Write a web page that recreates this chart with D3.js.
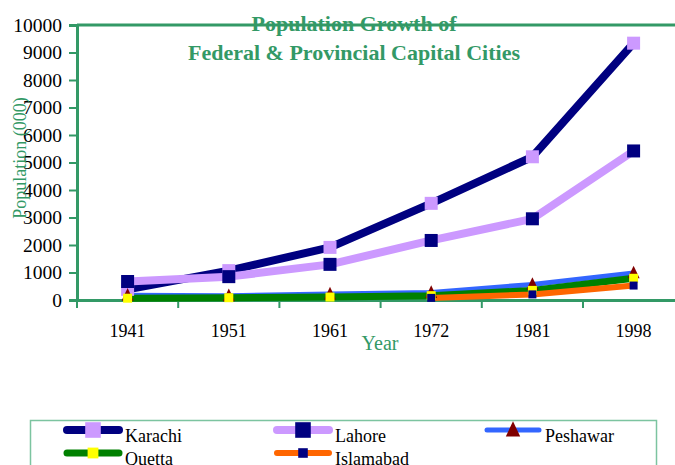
<!DOCTYPE html>
<html>
<head>
<meta charset="utf-8">
<script src="https://cdn.jsdelivr.net/npm/d3@7"></script>
<style>
body{margin:0;background:#fff;}
svg{display:block;font-family:"Liberation Serif","Times New Roman",serif;}
</style>
</head>
<body>
<svg></svg>
<script>
// data (thousands)
var years = ["1941","1951","1961","1972","1981","1998"];
var karachi = [387,1068,1913,3515,5208,9339];
var lahore = [672,849,1296,2165,2953,5420];
var peshawar = [173,152,219,273,566,985];
var quetta = [65,84,107,158,350,790];
var islamabad = [null,null,null,77,204,525];
var cityNames = ["Karachi","Lahore","Peshawar","Quetta","Islamabad"];
var yTicks = [0,1000,2000,3000,4000,5000,6000,7000,8000,9000,10000];

var green = "#339966";

var styles = {
  Karachi:{line:"#000080",width:8,marker:"square",fill:"#cc99ff",size:13},
  Lahore:{line:"#cc99ff",width:8,marker:"square",fill:"#000080",size:13},
  Peshawar:{line:"#3366ff",width:5,marker:"triangle",fill:"#800000",size:12},
  Quetta:{line:"#008000",width:7,marker:"square",fill:"#ffff00",size:9},
  Islamabad:{line:"#ff6600",width:6,marker:"square",fill:"#000080",size:8}
};

var series = [karachi,lahore,peshawar,quetta,islamabad].map(function(vals,i)
{
  return {
    name:cityNames[i],
    points:vals.map(function(v,j){return {year:years[j],value:v};})
  };
});

var drawChart = function()
{
  var screen = {width:675,height:465};

  var svg = d3.select("svg")
              .attr("width",screen.width)
              .attr("height",screen.height);

  var plot = {left:77,top:25,bottom:300,step:101.2};

  var xScale = d3.scaleBand()
            .domain(years)
            .range([plot.left,plot.left+plot.step*years.length]);
  var yScale = d3.scaleLinear()
            .domain([0,10000])
            .range([plot.bottom,plot.top]);

  // top border of plot area
  svg.append("line")
     .attr("x1",plot.left).attr("x2",screen.width)
     .attr("y1",plot.top).attr("y2",plot.top)
     .attr("stroke",green).attr("stroke-width",3);

  // y axis
  var yAxis = d3.axisLeft(yScale)
                .tickValues(yTicks)
                .tickSize(8)
                .tickPadding(7)
                .tickFormat(d3.format("d"));
  var yg = svg.append("g").classed("yAxis",true)
     .attr("transform","translate("+plot.left+",0)")
     .call(yAxis);
  yg.select(".domain").attr("stroke",green).attr("stroke-width",3);
  yg.selectAll(".tick line").attr("stroke",green).attr("stroke-width",2);
  yg.selectAll(".tick text")
    .attr("font-size",19.5)
    .attr("font-family","Liberation Serif")
    .attr("fill","#000");

  // x axis, labels centred in bands, ticks on band edges
  var xAxis = d3.axisBottom(xScale).tickSize(0).tickPadding(24);
  var xg = svg.append("g").classed("xAxis",true)
     .attr("transform","translate(0,"+plot.bottom+")")
     .call(xAxis);
  xg.select(".domain").attr("stroke",green).attr("stroke-width",3);
  xg.selectAll(".tick text")
    .attr("font-size",18)
    .attr("font-family","Liberation Serif")
    .attr("fill","#000");
  xg.selectAll(".edge")
    .data(years)
    .enter()
    .append("line")
    .classed("edge",true)
    .attr("x1",function(d){return xScale(d);})
    .attr("x2",function(d){return xScale(d);})
    .attr("y1",0).attr("y2",8)
    .attr("stroke",green).attr("stroke-width",2);

  // lines
  var drawLine = d3.line()
              .defined(function(d){return d.value!=null;})
              .x(function(d){return xScale(d.year)+xScale.bandwidth()/2;})
              .y(function(d){return yScale(d.value);});

  var lines = svg.append("g").classed("lines",true);
  lines.selectAll("path")
       .data(series)
       .enter()
       .append("path")
       .attr("d",function(d){return drawLine(d.points);})
       .attr("fill","none")
       .attr("stroke",function(d){return styles[d.name].line;})
       .attr("stroke-width",function(d){return styles[d.name].width;})
       .attr("stroke-linejoin","round");

  var markerPath = function(st,k)
  {
    var s = st.size*(k||1);
    if(st.marker=="triangle")
      return "M0,"+(-s*0.6)+"L"+(s/2)+","+(s*0.45)+"L"+(-s/2)+","+(s*0.45)+"Z";
    return "M"+(-s/2)+","+(-s/2)+"h"+s+"v"+s+"h"+(-s)+"Z";
  };

  // markers
  var markers = svg.append("g").classed("markers",true);
  series.forEach(function(sr)
  {
    var st = styles[sr.name];
    markers.append("g")
      .selectAll("path")
      .data(sr.points.filter(function(p){return p.value!=null;}))
      .enter()
      .append("path")
      .attr("transform",function(p)
        {return "translate("+(xScale(p.year)+xScale.bandwidth()/2)+","+yScale(p.value)+")";})
      .attr("d",markerPath(st))
      .attr("fill",st.fill);
  });

  // titles
  var title = svg.append("g")
     .attr("fill",green)
     .attr("font-weight","bold")
     .attr("font-size",22)
     .attr("text-anchor","middle");
  title.append("text").attr("x",354).attr("y",31).text("Population Growth of");
  title.append("text").attr("x",354).attr("y",60).text("Federal & Provincial Capital Cities");

  svg.append("text")
     .attr("transform","translate(26,158) rotate(-90)")
     .attr("text-anchor","middle")
     .attr("fill",green)
     .attr("font-size",18)
     .text("Population (000)");

  svg.append("text")
     .attr("x",380).attr("y",350)
     .attr("text-anchor","middle")
     .attr("fill",green)
     .attr("font-size",20)
     .text("Year");

  // legend
  var legend = svg.append("g").classed("legend",true);
  legend.append("rect")
        .attr("x",30.5).attr("y",420.5)
        .attr("width",626).attr("height",60)
        .attr("fill","none")
        .attr("stroke","#7cc4a0")
        .attr("stroke-width",1.5);

  var legendPos = [[63,430],[273,430],[483,430],[63,453],[273,453]];

  var items = legend.selectAll("g.item")
        .data(series)
        .enter()
        .append("g")
        .classed("item",true)
        .attr("transform",function(d,i)
          {return "translate("+legendPos[i][0]+","+legendPos[i][1]+")";});

  items.append("line")
       .attr("x1",4).attr("x2",56)
       .attr("y1",0).attr("y2",0)
       .attr("stroke",function(d){return styles[d.name].line;})
       .attr("stroke-width",function(d){return styles[d.name].width;})
       .attr("stroke-linecap","round");

  items.append("path")
       .attr("transform","translate(30,0)")
       .attr("d",function(d){return markerPath(styles[d.name],1.2);})
       .attr("fill",function(d){return styles[d.name].fill;});

  items.append("text")
       .attr("x",62).attr("y",12)
       .attr("font-size",18)
       .attr("fill","#000")
       .text(function(d){return d.name;});
};

drawChart();
</script>
</body>
</html>
